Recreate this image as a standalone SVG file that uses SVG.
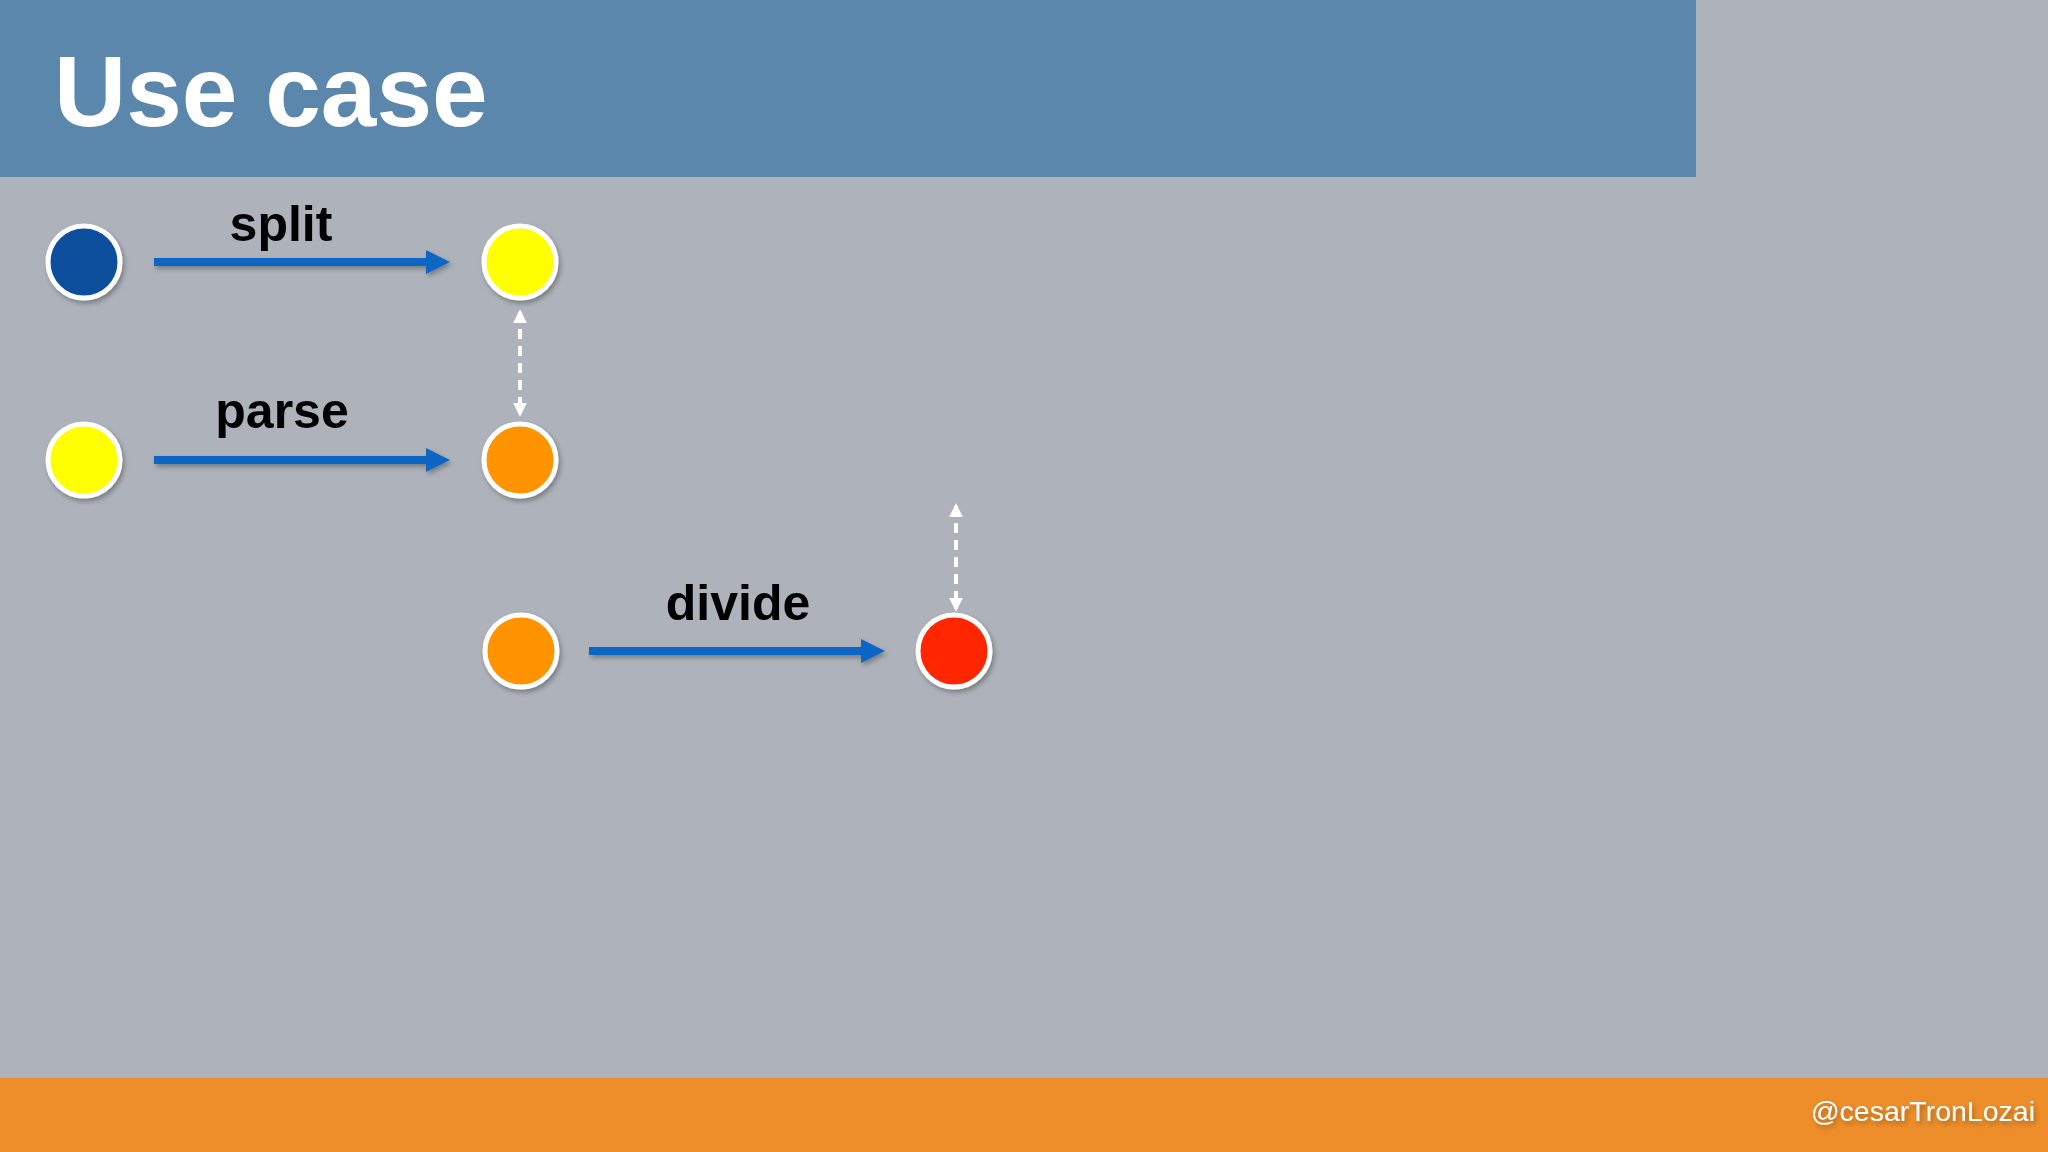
<svg xmlns="http://www.w3.org/2000/svg" width="2048" height="1152" viewBox="0 0 2048 1152">
  <defs>
    <style>
      .node { stroke: #ffffff; stroke-width: 5; }
      .flow { stroke: #0b66c3; stroke-width: 8; fill: none; }
      .link { stroke: #ffffff; stroke-width: 4; fill: none; stroke-dasharray: 10 7; }
      .label { font-family: "Liberation Sans", Arial, sans-serif; font-weight: bold; font-size: 50px; fill: #000000; text-anchor: middle; }
    </style>
    <filter id="shadow" x="-30%" y="-30%" width="160%" height="160%">
      <feDropShadow dx="2" dy="3" stdDeviation="2.5" flood-color="#000000" flood-opacity="0.3"/>
    </filter>
    <marker id="blueHead" viewBox="0 0 10 10" refX="0" refY="5" markerWidth="3.2" markerHeight="3" orient="auto" markerUnits="strokeWidth">
      <path d="M0,0 L10,5 L0,10 Z" fill="#0b66c3"/>
    </marker>
    <marker id="whiteHead" viewBox="0 0 10 10" refX="8" refY="5" markerWidth="3.5" markerHeight="3.5" orient="auto-start-reverse" markerUnits="strokeWidth">
      <path d="M0,0 L10,5 L0,10 Z" fill="#ffffff"/>
    </marker>
  </defs>

  <rect x="0" y="0" width="2048" height="1152" fill="#aeb3bb"/>
  <g id="header">
    <rect x="0" y="0" width="1696" height="177" fill="#5b87ac"/>
    <text x="54" y="126" font-family="Liberation Sans, Arial, sans-serif" font-weight="bold" font-size="100" fill="#ffffff">Use case</text>
  </g>
  <g id="footer">
    <rect x="0" y="1078" width="2048" height="74" fill="#ed8e2a"/>
    <text x="2035" y="1121" font-family="Liberation Sans, Arial, sans-serif" font-size="28.5" fill="#ffffff" text-anchor="end" filter="url(#shadow)">@cesarTronLozai</text>
  </g>

  <g id="connectors">
    <g filter="url(#shadow)">
      <line class="flow" x1="154" y1="262" x2="426" y2="262" marker-end="url(#blueHead)"/>
      <line class="flow" x1="154" y1="460" x2="426" y2="460" marker-end="url(#blueHead)"/>
      <line class="flow" x1="589" y1="651" x2="861" y2="651" marker-end="url(#blueHead)"/>
    </g>
    <line class="link" x1="520" y1="312" x2="520" y2="414" marker-start="url(#whiteHead)" marker-end="url(#whiteHead)"/>
    <line class="link" x1="956" y1="506" x2="956" y2="609" marker-start="url(#whiteHead)" marker-end="url(#whiteHead)"/>
    <text class="label" x="281" y="241">split</text>
    <text class="label" x="282" y="428">parse</text>
    <text class="label" x="738" y="620">divide</text>
  </g>

  <g id="node-blue" filter="url(#shadow)"><circle class="node" cx="84" cy="262" r="36" fill="#0b4f9c"/></g>
  <g id="node-yellow-1" filter="url(#shadow)"><circle class="node" cx="520" cy="262" r="36" fill="#ffff00"/></g>
  <g id="node-yellow-2" filter="url(#shadow)"><circle class="node" cx="84" cy="460" r="36" fill="#ffff00"/></g>
  <g id="node-orange-1" filter="url(#shadow)"><circle class="node" cx="520" cy="460" r="36" fill="#ff9300"/></g>
  <g id="node-orange-2" filter="url(#shadow)"><circle class="node" cx="521" cy="651" r="36" fill="#ff9300"/></g>
  <g id="node-red" filter="url(#shadow)"><circle class="node" cx="954" cy="651" r="36" fill="#ff2600"/></g>
</svg>
